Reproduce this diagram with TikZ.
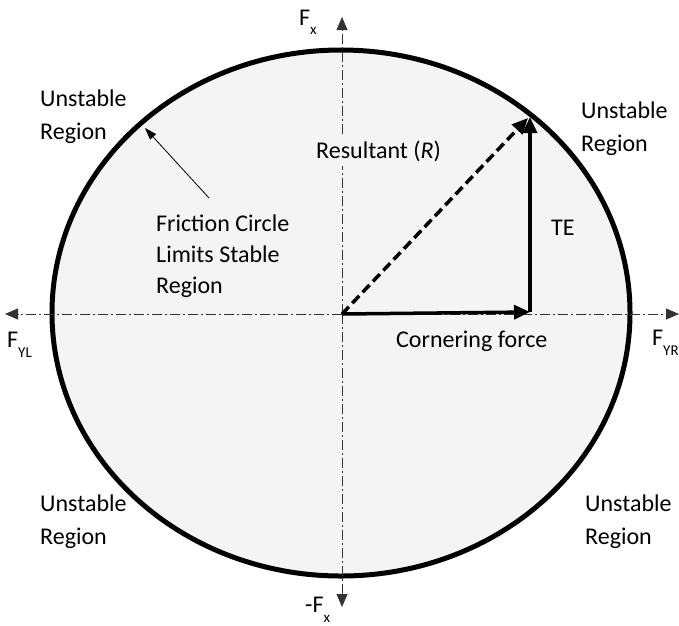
\documentclass[tikz,border=0pt]{standalone}
\usepackage{fontspec}
\setmainfont{Carlito}
\usetikzlibrary{arrows.meta}
\definecolor{regionfill}{RGB}{244,244,244}
\newcommand{\mainsize}{\fontsize{24}{33}\selectfont}
\newcommand{\subsz}{\fontsize{15}{15}\selectfont}
\begin{document}
\begin{tikzpicture}[x=1pt,y=-1pt,
  lbl/.style={font=\mainsize, align=left, inner sep=0pt},
  flbl/.style={font=\fontsize{24}{31}\selectfont, align=left, inner sep=0pt},
  axisline/.style={line width=0.8pt, draw=black!80, dash pattern=on 10pt off 3pt on 2pt off 3pt,
    -{Triangle[length=13pt,width=11pt]}},
  force/.style={line width=3.5pt, -{Triangle[length=16pt,width=14pt]}},
  resultant/.style={line width=3.5pt, dash pattern=on 10pt off 5pt, -{Triangle[length=16pt,width=14pt]}},
  pointer/.style={line width=0.8pt, -{Triangle[length=12pt,width=8pt]}},
]
\useasboundingbox (0,0) rectangle (679,625);

% friction circle
\filldraw[fill=regionfill, line width=5pt] (341,313) ellipse [x radius=289pt, y radius=263pt];

% axes
\coordinate (O) at (342,314);
\coordinate (top) at (342,17);
\coordinate (bot) at (342,607);
\coordinate (left) at (5,314);
\coordinate (right) at (679,314);
\draw[axisline] (O) -- (top);
\draw[axisline] (O) -- (bot);
\draw[axisline] (O) -- (left);
\draw[axisline] (O) -- (right);

% axis labels
\node[lbl, anchor=base west] (fx) at (299,25) {F\raisebox{-9pt}{\subsz x}};
\node[lbl, anchor=base west] (mfx) at (305,612) {-F\raisebox{-10pt}{\subsz x}};
\node[lbl, anchor=base west] (fyl) at (7,347) {F\raisebox{-10pt}{\subsz YL}};
\node[lbl, anchor=base west] (fyr) at (652,345) {F\raisebox{-10pt}{\subsz YR}};

% region labels
\node[lbl, anchor=north west] (ul) at (40,90) {Unstable\\Region};
\node[lbl, anchor=north west] (ur) at (581,102) {Unstable\\Region};
\node[lbl, anchor=north west] (ll) at (40,495) {Unstable\\Region};
\node[lbl, anchor=north west] (lr) at (585,495) {Unstable\\Region};

% friction circle note
\node[flbl, anchor=north west] (fc) at (156,215) {Friction Circle\\Limits Stable\\Region};
\coordinate (fcstart) at (209,198);
\coordinate (fctip) at (145,128);
\draw[pointer] (fcstart) -- (fctip);

% resultant label (hides the axis behind it)
\node[lbl, anchor=base west, fill=regionfill, inner ysep=5pt] (rl) at (316,158) {Resultant (\textit{R})};

% force vectors
\coordinate (C) at (530,312);
\coordinate (T) at (530,117);
\coordinate (Rt) at (528,118);
\draw[force] (O) -- (C);
\draw[force] (C) -- (T);
\draw[resultant] (O) -- (Rt);

\node[lbl, anchor=base west] (te) at (551,235) {TE};
\node[lbl, anchor=base west] (cf) at (396,347) {Cornering force};
\end{tikzpicture}
\end{document}
